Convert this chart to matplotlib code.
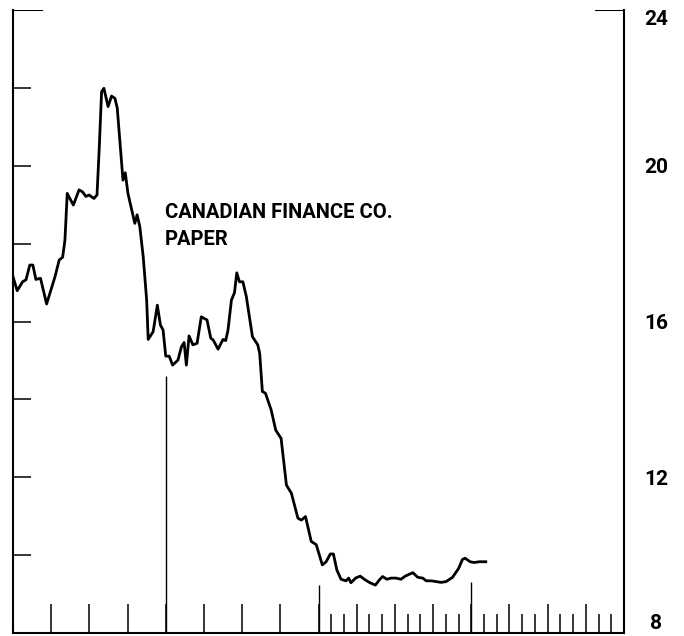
import matplotlib
matplotlib.use("Agg")
import matplotlib.pyplot as plt
from matplotlib.ticker import MultipleLocator, FixedLocator
import numpy as np

# Yield series (percent), x in chart units: 0-8 one scale, 8-16 finer (monthly ticks)
x_vals = [0.0, 0.11, 0.25, 0.34, 0.44, 0.52, 0.60, 0.72, 0.88, 1.10,
          1.21, 1.30, 1.36, 1.42, 1.58, 1.73, 1.82, 1.91, 1.99, 2.12,
          2.20, 2.26, 2.32, 2.38, 2.49, 2.58, 2.67, 2.73, 2.88, 2.94,
          3.01, 3.19, 3.25, 3.32, 3.41, 3.50, 3.54, 3.67, 3.78, 3.86,
          3.93, 4.00, 4.09, 4.18, 4.32, 4.41, 4.48, 4.54, 4.61, 4.71,
          4.82, 4.93, 5.08, 5.18, 5.24, 5.37, 5.50, 5.57, 5.63, 5.72,
          5.80, 5.86, 5.93, 6.02, 6.11, 6.27, 6.41, 6.46, 6.53, 6.61,
          6.76, 6.88, 7.02, 7.16, 7.29, 7.46, 7.55, 7.66, 7.81, 7.94,
          8.10, 8.20, 8.31, 8.39, 8.48, 8.59, 8.72, 8.79, 8.85, 8.97,
          9.09, 9.23, 9.35, 9.49, 9.59, 9.68, 9.79, 9.90, 10.03, 10.16,
          10.27, 10.47, 10.60, 10.73, 10.82, 10.95, 11.08, 11.21, 11.34, 11.51,
          11.67, 11.77, 11.84, 11.97, 12.08, 12.21, 12.38]
y_vals = [17.15, 16.79, 17.02, 17.07, 17.45, 17.45, 17.08, 17.11, 16.45, 17.15,
          17.58, 17.65, 18.09, 19.29, 18.99, 19.38, 19.33, 19.21, 19.25, 19.16,
          19.25, 20.49, 21.90, 21.99, 21.52, 21.79, 21.73, 21.48, 19.63, 19.82,
          19.29, 18.52, 18.74, 18.44, 17.66, 16.55, 15.54, 15.74, 16.42, 15.91,
          15.78, 15.11, 15.11, 14.88, 15.01, 15.35, 15.46, 14.88, 15.63, 15.40,
          15.44, 16.12, 16.04, 15.57, 15.53, 15.29, 15.54, 15.51, 15.78, 16.55,
          16.74, 17.25, 17.02, 17.02, 16.64, 15.61, 15.40, 15.18, 14.20, 14.16,
          13.73, 13.21, 13.00, 11.80, 11.59, 10.95, 10.90, 10.99, 10.35, 10.27,
          9.75, 9.83, 10.03, 10.03, 9.62, 9.38, 9.34, 9.41, 9.29, 9.41,
          9.46, 9.36, 9.29, 9.23, 9.36, 9.45, 9.38, 9.41, 9.41, 9.38,
          9.46, 9.55, 9.43, 9.41, 9.34, 9.34, 9.32, 9.30, 9.32, 9.43,
          9.66, 9.89, 9.92, 9.83, 9.81, 9.83, 9.83]

y_labels = [8, 12, 16, 20, 24]
divider_x = [4, 8, 12]
divider_top = [14.6, 9.23, 9.3]
label_text = "CANADIAN FINANCE CO.\nPAPER"

plt.rcParams['font.family'] = ['Roboto', 'DejaVu Sans']

fig = plt.figure(figsize=(6.84, 6.36), dpi=100)
ax = fig.add_axes([13 / 684, 3 / 636, 611 / 684, 623 / 636])

ax.plot(x_vals, y_vals, color="black", lw=2.0, solid_joinstyle="round")
ax.vlines(divider_x, 8, divider_top, color="black", lw=1.0)

ax.set_xlim(0, 16)
ax.set_ylim(8, 24)

for side in ["left", "bottom", "right"]:
    ax.spines[side].set_linewidth(1.5)
ax.spines["top"].set_visible(False)

# short caps at the top corners
ax.axhline(24, xmin=0, xmax=29 / 611, color="black", lw=1.5)
ax.axhline(24, xmin=1 - 28 / 611, xmax=1, color="black", lw=1.5)

# x ticks: integers all along, thirds on the right half
ax.xaxis.set_major_locator(MultipleLocator(1))
ax.xaxis.set_minor_locator(FixedLocator(np.arange(8, 16, 1 / 3)))
ax.tick_params(axis="x", which="major", direction="in", length=21, width=1.1,
               labelbottom=False)
ax.tick_params(axis="x", which="minor", direction="in", length=13.5, width=1.1)

# y ticks on both sides, labels on the right only
ax.yaxis.set_major_locator(FixedLocator(np.arange(10, 24, 2)))
ax.tick_params(axis="y", which="major", direction="in", length=13, width=1.1,
               left=True, right=True, labelleft=False, labelright=False)
ax2 = ax.twinx()
ax2.set_ylim(8, 24)
ax2.set_yticks(y_labels)
ax2.set_yticklabels([str(v) for v in y_labels])
ax2.tick_params(axis="y", length=0, pad=23, labelsize=15)
for lbl in ax2.get_yticklabels():
    lbl.set_horizontalalignment("center")
    lbl.set_fontweight("bold")
ticklabels = ax2.get_yticklabels()
ticklabels[0].set_verticalalignment("bottom")
ticklabels[-1].set_verticalalignment("top")
for s in ax2.spines.values():
    s.set_visible(False)

ax.text(3.97, 19.04, label_text, ha="left", va="top", fontsize=14.5,
        fontweight="bold", linespacing=1.55)

fig.savefig("out.png", dpi=100)
